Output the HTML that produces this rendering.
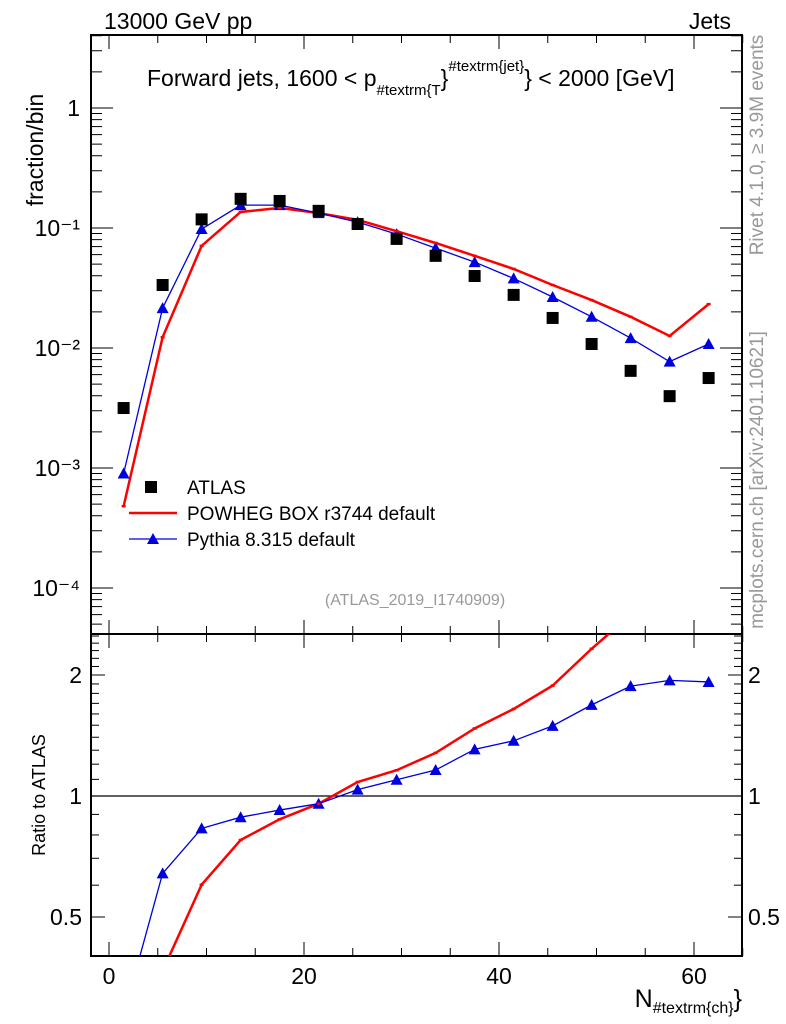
<!DOCTYPE html>
<html><head><meta charset="utf-8"><style>
html,body{margin:0;padding:0;background:#fff;overflow:hidden;width:786px;height:1024px;}
svg{display:block;font-family:"Liberation Sans",sans-serif;}
</style></head><body>
<svg id="c" width="786" height="1024" viewBox="0 0 786 1024" xmlns="http://www.w3.org/2000/svg">
<defs>
<clipPath id="clipMain"><rect x="91" y="35" width="651" height="599"/></clipPath>
<clipPath id="clipRatio"><rect x="91" y="634" width="651" height="322"/></clipPath>
</defs>
<text x="104" y="29" font-size="23">13000 GeV pp</text>
<text x="731" y="29" font-size="23" text-anchor="end">Jets</text>
<text x="147" y="86" font-size="23">Forward jets, 1600 &lt; p<tspan font-size="15" dy="9">#textrm{T</tspan><tspan dy="-9">}</tspan><tspan font-size="15" dy="-15">#textrm{jet}</tspan><tspan dy="15">} &lt; 2000 [GeV]</tspan></text>
<text transform="translate(43,150) rotate(-90)" font-size="23" text-anchor="middle">fraction/bin</text>
<text transform="translate(45,795) rotate(-90)" font-size="18" text-anchor="middle">Ratio to ATLAS</text>
<text transform="translate(763,145) rotate(-90)" font-size="19" fill="#999" text-anchor="middle">Rivet 4.1.0, ≥ 3.9M events</text>
<text transform="translate(763,480) rotate(-90)" font-size="19" fill="#999" text-anchor="middle">mcplots.cern.ch [arXiv:2401.10621]</text>
<text x="415" y="605" font-size="16" fill="#999" text-anchor="middle">(ATLAS_2019_I1740909)</text>
<text x="742" y="1007" font-size="25" text-anchor="end">N<tspan font-size="16" dy="6">#textrm{ch}</tspan><tspan dy="-6">}</tspan></text>
<g id="axes"></g>
<g id="mainMarks" clip-path="url(#clipMain)"></g>
<g id="ratioMarks" clip-path="url(#clipRatio)"></g>
<g id="legend">
<rect x="145" y="481" width="12" height="12" fill="#000"/>
<text x="187" y="494" font-size="19">ATLAS</text>
<line x1="129" y1="513" x2="177" y2="513" stroke="red" stroke-width="2.5"/>
<text x="187" y="520" font-size="19">POWHEG BOX r3744 default</text>
<line x1="129" y1="539" x2="177" y2="539" stroke="#0000dd" stroke-width="1.3"/>
<polygon points="153,533 159,544 147,544" fill="#0000dd"/>
<text x="187" y="546" font-size="19">Pythia 8.315 default</text>
</g>
</svg>
<script>
const xCenters=[1.5,5.5,9.5,13.5,17.5,21.5,25.5,29.5,33.5,37.5,41.5,45.5,49.5,53.5,57.5,61.5];
const atlasVals=[0.00316,0.0335,0.118,0.175,0.168,0.139,0.108,0.0811,0.0586,0.0398,0.0277,0.0178,0.0108,0.00645,0.00397,0.00562];
const powhegVals=[0.00048,0.0123,0.071,0.136,0.147,0.133,0.117,0.094,0.075,0.0586,0.0456,0.0335,0.0251,0.0182,0.0126,0.0232];
const pythiaVals=[0.0009,0.0215,0.098,0.155,0.155,0.133,0.112,0.089,0.068,0.052,0.038,0.0266,0.0182,0.0121,0.0077,0.0108];
const xTickLabels=[0,20,40,60];
const yTickLabels=["1","10\u207B\u00B9","10\u207B\u00B2","10\u207B\u00B3","10\u207B\u2074"];
const ratioTickLabels=["2","1","0.5"];
const NS="http://www.w3.org/2000/svg";
const X=v=>109+v*9.75;
const Y=v=>108-Math.log10(v)*120;
const R=v=>796-Math.log10(v)*402;
function mk(tag,attrs,parent){const e=document.createElementNS(NS,tag);for(const k in attrs)e.setAttribute(k,attrs[k]);parent.appendChild(e);return e;}
const axes=document.getElementById('axes');
const L=91,Rt=742,T=35,M=634,B=956;
mk('rect',{x:L,y:T,width:Rt-L,height:B-T,fill:'none',stroke:'#000','stroke-width':2},axes);
mk('line',{x1:L,y1:M,x2:Rt,y2:M,stroke:'#000','stroke-width':2},axes);
for(let v=0;v<=65;v+=5){const x=X(v);const maj=v%20===0;const len=maj?14:8;
[[T,1],[M,-1],[M,1],[B,-1]].forEach(([y,d])=>mk('line',{x1:x,y1:y,x2:x,y2:y+d*len,stroke:'#000','stroke-width':1},axes));}
xTickLabels.forEach(v=>{const t=mk('text',{x:X(v),y:984,'font-size':23,'text-anchor':'middle'},axes);t.textContent=v;

});
for(let e=-5;e<=0;e++){for(let m=1;m<10;m++){const v=m*Math.pow(10,e);const y=Y(v);if(y<T||y>M)continue;const len=m===1?22:11;
mk('line',{x1:L,y1:y,x2:L+len,y2:y,stroke:'#000'},axes);mk('line',{x1:Rt,y1:y,x2:Rt-len,y2:y,stroke:'#000'},axes);}}
yTickLabels.forEach((s,i)=>{const t=mk('text',{x:80,y:Y(Math.pow(10,-i))+8,'font-size':23,'text-anchor':'end'},axes);t.textContent=s;

});
const rt=[0.4,0.5,0.6,0.7,0.8,0.9,1,1.1,1.2,1.3,1.4,1.5,1.6,1.7,1.8,1.9,2,2.1,2.2,2.3,2.4,2.5];
rt.forEach(v=>{const y=R(v);if(y<M||y>B)return;const maj=(v===0.5||v===1||v===2);const len=maj?14:8;
mk('line',{x1:L,y1:y,x2:L+len,y2:y,stroke:'#000'},axes);mk('line',{x1:Rt,y1:y,x2:Rt-len,y2:y,stroke:'#000'},axes);});
ratioTickLabels.forEach(s=>{const v=parseFloat(s);
const t=mk('text',{x:82,y:R(v)+8,'font-size':23,'text-anchor':'end'},axes);t.textContent=s;


const t2=mk('text',{x:748,y:R(v)+8,'font-size':23},axes);t2.textContent=s;

});
mk('line',{x1:L,y1:R(1),x2:Rt,y2:R(1),stroke:'#000','stroke-width':1.3},axes);
const mm=document.getElementById('mainMarks');
const pl=(vals,f)=>vals.map((v,i)=>X(xCenters[i])+','+f(v)).join(' ');
const pr=mk('polyline',{points:pl(powhegVals,Y),fill:'none',stroke:'red','stroke-width':2.5},mm);


const py=mk('polyline',{points:pl(pythiaVals,Y),fill:'none',stroke:'#0000dd','stroke-width':1.3},mm);


function tri(g,x,y,name){const p=mk('polygon',{points:`${x},${y-6} ${x+6},${y+5} ${x-6},${y+5}`,fill:'#0000dd'},g);

}
pythiaVals.forEach((v,i)=>tri(mm,X(xCenters[i]),Y(v),'pythia-point'));
powhegVals.forEach((v,i)=>{const c=mk('line',{x1:X(xCenters[i])-2,y1:Y(v),x2:X(xCenters[i])+2,y2:Y(v),stroke:'red','stroke-width':2.5},mm);

});
atlasVals.forEach((v,i)=>{const r=mk('rect',{x:X(xCenters[i])-6,y:Y(v)-6,width:12,height:12,fill:'#000'},mm);

});
const rm=document.getElementById('ratioMarks');
const rPow=powhegVals.map((v,i)=>v/atlasVals[i]);
const rPy=pythiaVals.map((v,i)=>v/atlasVals[i]);
const rl=mk('polyline',{points:pl(rPow,R),fill:'none',stroke:'red','stroke-width':2.5},rm);


const bl=mk('polyline',{points:pl(rPy,R),fill:'none',stroke:'#0000dd','stroke-width':1.3},rm);


rPy.forEach((v,i)=>tri(rm,X(xCenters[i]),R(v),'pythia-ratio-point'));
rPow.forEach((v,i)=>{const c=mk('line',{x1:X(xCenters[i])-2,y1:R(v),x2:X(xCenters[i])+2,y2:R(v),stroke:'red','stroke-width':2.5},rm);

});
</script>
</body></html>
